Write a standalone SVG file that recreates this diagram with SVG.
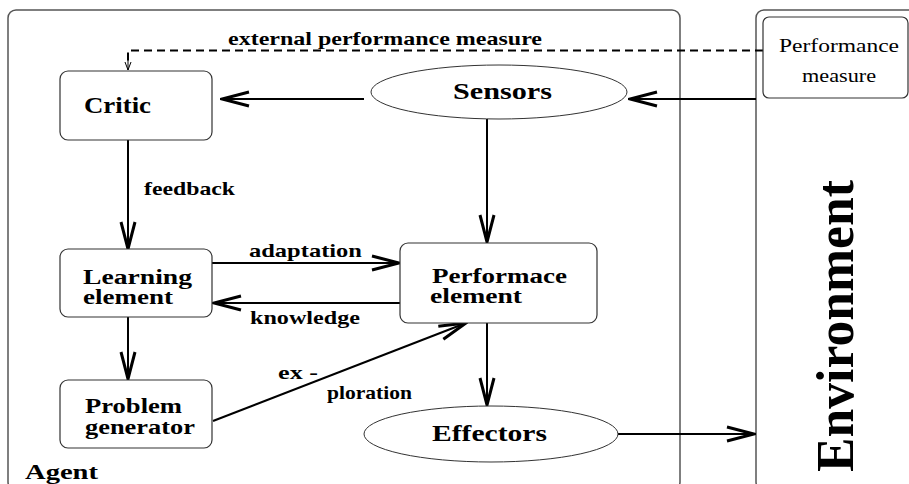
<svg xmlns="http://www.w3.org/2000/svg" width="909" height="484" viewBox="0 0 909 484">
  <style>
    .frame { fill: none; stroke: #555; stroke-width: 1.5; }
    .box { fill: #fff; stroke: #333; stroke-width: 1.2; }
    .oval { fill: #fff; stroke: #333; stroke-width: 1; }
    .lbl { font-family: "Liberation Serif", "Times New Roman", serif; font-weight: bold; fill: #000; }
    .node { font-size: 24px; }
    .pair { font-size: 20px; }
    .edge { font-size: 19px; }
    .plain { font-family: "Liberation Serif", "Times New Roman", serif; font-size: 19px; fill: #000; }
    .conn { fill: none; stroke: #000; stroke-width: 2; }
    .dash { fill: none; stroke: #000; stroke-width: 2; stroke-dasharray: 8 5; }
  </style>
  <defs>
    <marker id="open" viewBox="0 0 30 18" refX="28" refY="9" markerWidth="30" markerHeight="18" markerUnits="userSpaceOnUse" orient="auto">
      <path d="M1,2 L28,9 L1,16" fill="none" stroke="#000" stroke-width="3"/>
    </marker>
    <marker id="small" viewBox="0 0 10 8" refX="9" refY="4" markerWidth="10" markerHeight="8" markerUnits="userSpaceOnUse" orient="auto">
      <path d="M1,1 L9,4 L1,7" fill="none" stroke="#000" stroke-width="1"/>
    </marker>
  </defs>

  <rect width="909" height="484" fill="#fff"/>

  <!-- outer frames -->
  <g id="agent">
    <rect class="frame" x="8" y="10" width="672" height="480" rx="8"/>
    <text class="lbl" font-size="22" x="25" y="479" textLength="73" lengthAdjust="spacingAndGlyphs">Agent</text>
  </g>
  <g id="environment">
    <rect class="frame" x="756" y="10" width="200" height="480" rx="8"/>
    <text class="lbl" font-size="52" transform="translate(853,472) rotate(-90)" textLength="292" lengthAdjust="spacingAndGlyphs">Environment</text>
  </g>

  <!-- connectors -->
  <g id="connectors">
    <path class="dash" d="M763,50.5 H128 V62"/>
    <path d="M128,60 V70" fill="none" stroke="#000" stroke-width="1" marker-end="url(#small)"/>
    <path class="conn" d="M364,99 H222" marker-end="url(#open)"/>
    <path class="conn" d="M756,99 H630" marker-end="url(#open)"/>
    <path class="conn" d="M487,118 V242" marker-end="url(#open)"/>
    <path class="conn" d="M128,140 V249" marker-end="url(#open)"/>
    <path class="conn" d="M128,317 V379" marker-end="url(#open)"/>
    <path class="conn" d="M212,263 H399" marker-end="url(#open)"/>
    <path class="conn" d="M400,303 H214" marker-end="url(#open)"/>
    <path class="conn" d="M213,421 L466,323" marker-end="url(#open)"/>
    <path class="conn" d="M487,323 V405" marker-end="url(#open)"/>
    <path class="conn" d="M618,434 H754" marker-end="url(#open)"/>
    <text class="lbl edge" x="228" y="45" textLength="314" lengthAdjust="spacingAndGlyphs">external performance measure</text>
    <text class="lbl edge" x="144" y="195" textLength="91" lengthAdjust="spacingAndGlyphs">feedback</text>
    <text class="lbl edge" x="249" y="257" textLength="113" lengthAdjust="spacingAndGlyphs">adaptation</text>
    <text class="lbl edge" x="250" y="324" textLength="110" lengthAdjust="spacingAndGlyphs">knowledge</text>
    <text class="lbl edge" x="278" y="379" textLength="40" lengthAdjust="spacingAndGlyphs">ex -</text>
    <text class="lbl edge" x="327" y="399" textLength="85" lengthAdjust="spacingAndGlyphs">ploration</text>
  </g>

  <!-- nodes -->
  <g id="performance-measure">
    <rect class="box" x="763" y="17" width="145" height="81" rx="6"/>
    <text class="plain" x="779" y="52" textLength="120" lengthAdjust="spacingAndGlyphs">Performance</text>
    <text class="plain" x="802" y="82" textLength="74" lengthAdjust="spacingAndGlyphs">measure</text>
  </g>
  <g id="critic">
    <rect class="box" x="60" y="71" width="152" height="69" rx="8"/>
    <text class="lbl node" x="84" y="113" textLength="67" lengthAdjust="spacingAndGlyphs">Critic</text>
  </g>
  <g id="sensors">
    <ellipse class="oval" cx="499" cy="92" rx="128" ry="27"/>
    <text class="lbl node" x="453" y="99" textLength="99" lengthAdjust="spacingAndGlyphs">Sensors</text>
  </g>
  <g id="learning-element">
    <rect class="box" x="60" y="249" width="152" height="68" rx="8"/>
    <text class="lbl pair" x="83" y="284" textLength="109" lengthAdjust="spacingAndGlyphs">Learning</text>
    <text class="lbl pair" x="83" y="304" textLength="90" lengthAdjust="spacingAndGlyphs">element</text>
  </g>
  <g id="performance-element">
    <rect class="box" x="400" y="243" width="197" height="80" rx="8"/>
    <text class="lbl pair" x="432" y="283" textLength="135" lengthAdjust="spacingAndGlyphs">Performace</text>
    <text class="lbl pair" x="430" y="303" textLength="92" lengthAdjust="spacingAndGlyphs">element</text>
  </g>
  <g id="problem-generator">
    <rect class="box" x="60" y="380" width="152" height="68" rx="8"/>
    <text class="lbl pair" x="85" y="413" textLength="97" lengthAdjust="spacingAndGlyphs">Problem</text>
    <text class="lbl pair" x="85" y="434" textLength="110" lengthAdjust="spacingAndGlyphs">generator</text>
  </g>
  <g id="effectors">
    <ellipse class="oval" cx="491" cy="434" rx="127" ry="28"/>
    <text class="lbl node" x="432" y="441" textLength="115" lengthAdjust="spacingAndGlyphs">Effectors</text>
  </g>
</svg>
